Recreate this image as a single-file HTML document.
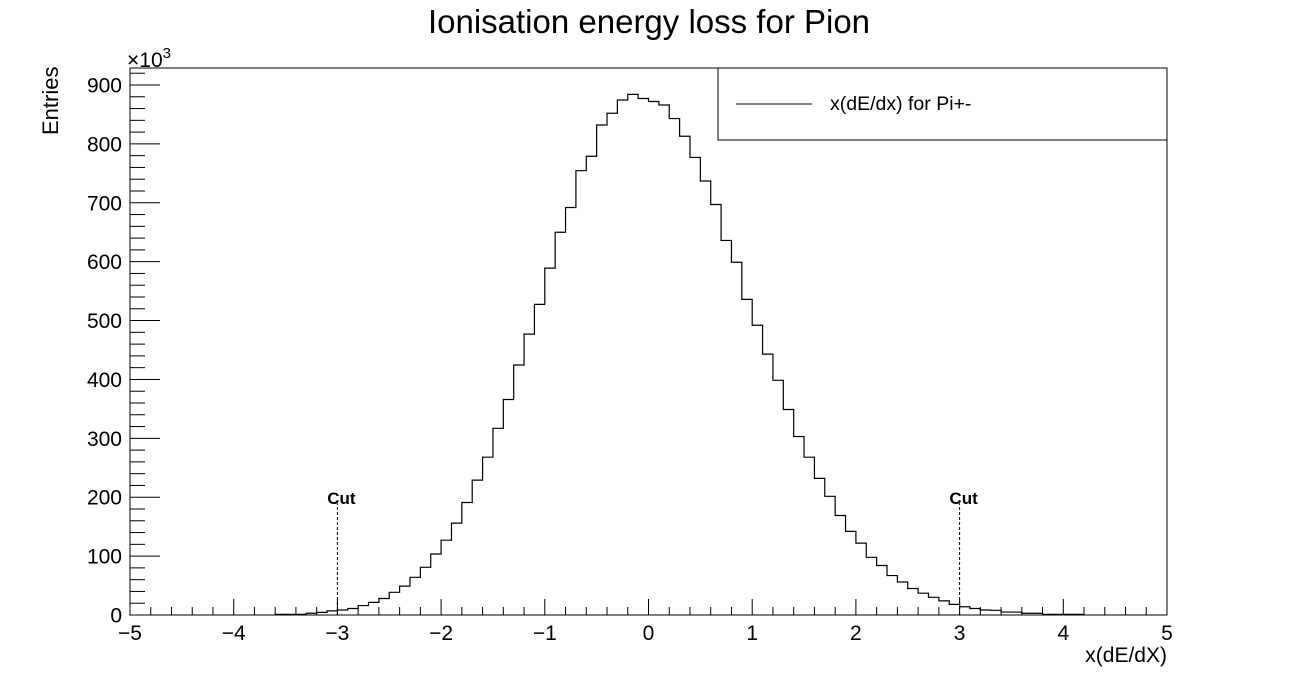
<!DOCTYPE html>
<html><head><meta charset="utf-8"><style>
body{margin:0;background:#fff}
svg{display:block;font-family:"Liberation Sans",Arial,sans-serif}
</style></head><body>
<svg id="c" width="1297" height="684" viewBox="0 0 1297 684">
<rect width="1297" height="684" fill="#fff"/>
<text x="649" y="33" font-size="33" text-anchor="middle">Ionisation energy loss for Pion</text>
<g id="axes"></g>
<g id="hist"></g>
<g>
<rect x="718" y="68" width="449" height="72" fill="#fff" stroke="#000" stroke-width="1"/>
<line x1="736" y1="104" x2="812" y2="104" stroke="#000"/>
<text x="830" y="110" font-size="19.5">x(dE/dx) for Pi+-</text>
</g>
<text x="127" y="67" font-size="21">×10<tspan dy="-9" font-size="15">3</tspan></text>
<text transform="translate(58,135) rotate(-90)" font-size="22">Entries</text>
<text x="1167" y="662" font-size="21" text-anchor="end">x(dE/dX)</text>
</svg>
<script>
const binStart = -3.6;
const binWidth = 0.1;
const counts = [1,1,1,3,4.5,7,8.5,11,16,21.5,28,38.5,49,64,81,103.6,127,156,191,229,268,317,366,
424.5,477,527.5,589,650,692,754.5,779,832,852,874.5,884,877,872,866,843,813,777,737,697,636,599,536,492,443,398.5,
349,303,268,232,201.5,169,142,122,98,84,67,56,45,37,30,24,18,14,11,8.5,8,5,5,3,3,1,1,1,1];
const xTicks = [-5,-4,-3,-2,-1,0,1,2,3,4,5];
const yTicks = [0,100,200,300,400,500,600,700,800,900];
const cutPositions = [-3,3];
const cutHeight = 195;

const L=130,R=1167,T=68,B=615;
const xs=v=>L+(v+5)/10*(R-L);
const ys=v=>B-v*0.5889;
const NS='http://www.w3.org/2000/svg';
function mk(tag,attrs,parent,txt){const e=document.createElementNS(NS,tag);for(const k in attrs)e.setAttribute(k,attrs[k]);if(txt!==undefined)e.textContent=txt;parent.appendChild(e);return e;}
const ax=document.getElementById('axes');
const frame=mk('rect',{x:L,y:T,width:R-L,height:B-T,fill:'none',stroke:'#000','stroke-width':1},ax);


for(let v=-5;v<=5.001;v+=0.2){const x=xs(v);const maj=Math.abs(v-Math.round(v))<1e-6;
 const t=mk('line',{x1:x,x2:x,y1:B,y2:B-(maj?16:8),stroke:'#000'},ax);
 
 }
xTicks.forEach(v=>{const t=mk('text',{x:xs(v),y:640,'font-size':21,'text-anchor':'middle'},ax,v<0?'\u2212'+(-v):String(v));
 
 });
for(let v=0;v<=920;v+=20){const y=ys(v);const maj=v%100===0;
 const t=mk('line',{x1:L,x2:L+(maj?30:15),y1:y,y2:y,stroke:'#000'},ax);
 
 }
yTicks.forEach(v=>{const t=mk('text',{x:122,y:ys(v)+7.5,'font-size':21,'text-anchor':'end'},ax,String(v));
 
 });
const h=document.getElementById('hist');
let d='M'+xs(binStart)+' '+ys(0);
counts.forEach((c,i)=>{const x0=xs(binStart+i*binWidth),x1=xs(binStart+(i+1)*binWidth);d+=' L'+x0+' '+ys(c)+' L'+x1+' '+ys(c);});
d+=' L'+xs(binStart+counts.length*binWidth)+' '+ys(0);
const p=mk('path',{d:d,fill:'none',stroke:'#000','stroke-width':1.2},h);


cutPositions.forEach(c=>{
 const l=mk('line',{x1:xs(c),x2:xs(c),y1:B,y2:ys(cutHeight)+3,stroke:'#000','stroke-dasharray':'3,2'},h);
 
 
 const t=mk('text',{x:xs(c)+4,y:ys(cutHeight)+4,'font-size':17,'font-weight':'bold','text-anchor':'middle'},h,'Cut');
 
 
});
</script>
</body></html>
